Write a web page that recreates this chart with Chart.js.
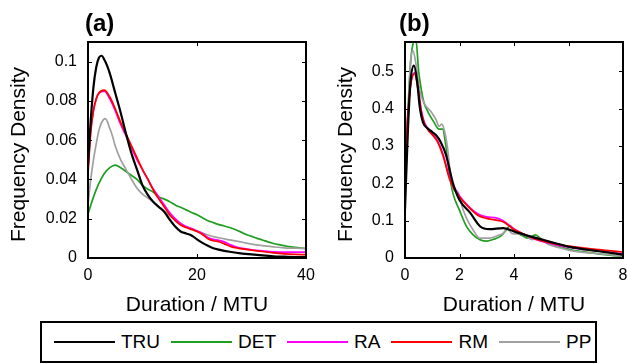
<!DOCTYPE html>
<html>
<head>
<meta charset="utf-8">
<script src="https://cdn.jsdelivr.net/npm/chart.js@4.4.1/dist/chart.umd.min.js"></script>
<style>
  body { margin: 0; background: #fff; width: 627px; height: 364px; overflow: hidden; position: relative;
         font-family: "Liberation Sans", Arial, Helvetica, sans-serif; }
  #chartA { position: absolute; left: 0; top: 0; }
  #chartB { position: absolute; left: 320px; top: 0; }
  #legend { position: absolute; left: 40px; top: 321px; width: 557px; height: 42px; box-sizing: border-box;
            border: 2px solid #000; display: flex; align-items: center; padding-left: 12px; font-size: 19px; color: #000; }
  #legend .item { display: flex; align-items: center; margin-right: 11px; }
  #legend .swatch { width: 61px; height: 0; border-top: 2px solid; margin-right: 6px; }
</style>
</head>
<body>
<canvas id="chartA" width="320" height="320"></canvas>
<canvas id="chartB" width="307" height="320"></canvas>
<div id="legend"></div>
<script>
const FONT = '"Liberation Sans", Arial, Helvetica, sans-serif';

// series names / colours (same order as the legend)
const seriesNames = ["TRU", "DET", "RA", "RM", "PP"];
const seriesColors = ["#000000", "#1f9e1f", "#ff00ff", "#ff0000", "#a0a0a0"];

// panel (a): duration 0..40 MTU
const xTicksA = [0, 20, 40];
const yTicksA = [0, 0.02, 0.04, 0.06, 0.08, 0.1];
const aTRU = [[0,0.048],[0.5,0.07],[1,0.087],[1.5,0.097],[2,0.102],[2.5,0.103],[3,0.101],[3.5,0.098],[4,0.094],[5,0.084],[6,0.074],[7,0.063],[8,0.053],[9,0.045],[10,0.037],[11,0.032],[12,0.0285],[13,0.026],[14,0.0235],[15,0.0195],[16,0.016],[17,0.0135],[18,0.0125],[19,0.0115],[20,0.0095],[21,0.0077],[22,0.0062],[23,0.005],[24,0.0043],[26,0.0032],[28,0.0024],[30,0.0018],[32,0.0013],[34,0.0009],[36,0.0007],[38,0.0005],[40,0.0004]];
const aDET = [[0,0.0225],[1,0.031],[2,0.038],[3,0.043],[4,0.046],[5,0.0473],[6,0.046],[7,0.044],[8,0.042],[9,0.04],[10,0.037],[11,0.035],[12,0.0335],[13,0.031],[14,0.03],[15,0.0287],[16,0.027],[17,0.0258],[18,0.0245],[19,0.0232],[20,0.022],[21,0.0205],[22,0.019],[23,0.018],[24,0.017],[25,0.0163],[26,0.0155],[27,0.0145],[28,0.0133],[29,0.012],[30,0.011],[31,0.01],[32,0.0092],[33,0.0082],[34,0.0074],[35,0.0068],[36,0.0063],[37,0.0058],[38,0.0054],[39,0.0051],[40,0.0049]];
const aRA = [[0,0.045],[0.5,0.065],[1,0.075],[1.5,0.081],[2,0.084],[3,0.085],[4,0.081],[5,0.075],[6,0.068],[7,0.062],[8,0.056],[9,0.05],[10,0.045],[11,0.04],[12,0.035],[13,0.031],[14,0.027],[15,0.023],[16,0.02],[17,0.0175],[18,0.016],[19,0.015],[20,0.0138],[21,0.0125],[22,0.0105],[23,0.0095],[24,0.009],[25,0.0082],[26,0.0068],[27,0.0058],[28,0.005],[30,0.0042],[32,0.0036],[34,0.0031],[36,0.003],[38,0.003],[40,0.003]];
const aRM = [[0,0.043],[0.5,0.064],[1,0.075],[1.5,0.081],[2,0.084],[3,0.0855],[4,0.082],[5,0.076],[6,0.069],[7,0.063],[8,0.057],[9,0.051],[10,0.045],[11,0.04],[12,0.0345],[13,0.03],[14,0.026],[15,0.022],[16,0.019],[17,0.0168],[18,0.0155],[19,0.0146],[20,0.0135],[21,0.012],[22,0.0098],[23,0.0088],[24,0.0083],[25,0.0072],[26,0.006],[27,0.0052],[28,0.0048],[30,0.004],[32,0.0033],[34,0.0026],[36,0.0021],[38,0.0018],[40,0.0017]];
const aPP = [[0,0.027],[0.5,0.04],[1,0.05],[1.5,0.058],[2,0.065],[2.5,0.069],[3.2,0.071],[4,0.066],[4.5,0.062],[5,0.057],[6,0.05],[7,0.045],[8,0.04],[9,0.0355],[10,0.0325],[11,0.0305],[12,0.0285],[13,0.026],[14,0.0238],[15,0.0215],[16,0.0195],[17,0.0177],[18,0.016],[19,0.015],[20,0.0138],[22,0.0117],[24,0.0103],[26,0.0092],[28,0.0082],[30,0.0071],[32,0.0063],[34,0.0057],[36,0.0052],[38,0.005],[40,0.0048]];

// panel (b): duration 0..8 MTU
const xTicksB = [0, 2, 4, 6, 8];
const yTicksB = [0, 0.1, 0.2, 0.3, 0.4, 0.5];
const bTRU = [[0,0.13],[0.1,0.33],[0.2,0.47],[0.33,0.515],[0.45,0.47],[0.54,0.405],[0.66,0.363],[0.85,0.346],[1,0.337],[1.15,0.328],[1.3,0.312],[1.5,0.277],[1.76,0.2],[2,0.155],[2.4,0.12],[2.75,0.085],[3.1,0.077],[3.6,0.08],[4,0.071],[4.4,0.062],[5.1,0.048],[5.5,0.04],[6.1,0.029],[6.6,0.023],[7.1,0.018],[8,0.009]];
const bDET = [[0,0.2],[0.1,0.38],[0.2,0.52],[0.3,0.575],[0.4,0.585],[0.5,0.5],[0.6,0.45],[0.7,0.415],[0.85,0.39],[1.05,0.365],[1.25,0.345],[1.38,0.345],[1.5,0.3],[1.64,0.22],[1.76,0.173],[2,0.128],[2.26,0.084],[2.5,0.062],[2.75,0.049],[3,0.045],[3.25,0.05],[3.5,0.058],[3.72,0.075],[3.85,0.087],[4.04,0.071],[4.3,0.06],[4.53,0.053],[4.78,0.062],[5.02,0.049],[5.5,0.035],[6.1,0.022],[6.7,0.015],[7.35,0.009],[8,0.004]];
const bRA = [[0,0.24],[0.1,0.37],[0.2,0.46],[0.35,0.496],[0.5,0.445],[0.6,0.395],[0.7,0.365],[0.85,0.345],[1,0.333],[1.2,0.313],[1.4,0.277],[1.64,0.215],[1.8,0.19],[2,0.166],[2.38,0.135],[2.7,0.117],[3,0.11],[3.3,0.108],[3.6,0.1],[4,0.078],[4.4,0.062],[4.9,0.047],[5.5,0.036],[6.1,0.028],[7,0.02],[8,0.011]];
const bRM = [[0,0.25],[0.1,0.38],[0.2,0.46],[0.35,0.493],[0.5,0.44],[0.6,0.39],[0.7,0.362],[0.85,0.342],[1,0.33],[1.2,0.31],[1.4,0.272],[1.64,0.21],[1.8,0.185],[2,0.163],[2.38,0.133],[2.7,0.113],[3,0.106],[3.3,0.102],[3.6,0.097],[4,0.076],[4.4,0.063],[4.9,0.048],[5.5,0.038],[6.1,0.031],[7,0.023],[8,0.016]];
const bPP = [[0,0.14],[0.1,0.35],[0.2,0.52],[0.29,0.555],[0.4,0.52],[0.54,0.448],[0.72,0.412],[0.97,0.39],[1.15,0.368],[1.25,0.352],[1.35,0.358],[1.45,0.34],[1.55,0.3],[1.65,0.235],[1.76,0.185],[1.85,0.18],[1.95,0.175],[2.13,0.13],[2.3,0.1],[2.5,0.075],[2.75,0.053],[3.1,0.053],[3.4,0.06],[3.6,0.066],[3.75,0.078],[3.92,0.066],[4.2,0.064],[4.45,0.06],[4.66,0.049],[4.9,0.053],[5.27,0.036],[5.7,0.027],[6.13,0.019],[7,0.012],[8,0.005]];

// TRU on top, then RM, RA, PP, DET
const drawOrder = [0, 4, 2, 1, 3];

// box, inward ticks, panel label and axis titles
const framePlugin = {
  id: "frame",
  afterDraw(chart, args, opts) {
    const { ctx, chartArea: a, scales: { x, y } } = chart;
    ctx.save();
    ctx.strokeStyle = "#000";
    ctx.lineWidth = 1;
    ctx.beginPath();
    x.ticks.forEach(t => {
      const px = Math.round(x.getPixelForValue(t.value)) + 0.5;
      ctx.moveTo(px, a.bottom); ctx.lineTo(px, a.bottom - 4);
      ctx.moveTo(px, a.top); ctx.lineTo(px, a.top + 4);
    });
    y.ticks.forEach(t => {
      const py = Math.round(y.getPixelForValue(t.value)) + 0.5;
      ctx.moveTo(a.left, py); ctx.lineTo(a.left + 4, py);
      ctx.moveTo(a.right, py); ctx.lineTo(a.right - 4, py);
    });
    ctx.stroke();
    ctx.lineWidth = 2;
    ctx.strokeRect(a.left, a.top, a.right - a.left, a.bottom - a.top);

    ctx.fillStyle = "#000";
    ctx.textAlign = "left";
    ctx.textBaseline = "alphabetic";
    ctx.font = "bold 24px " + FONT;
    ctx.fillText(opts.label, a.left + opts.labelDx, 30.5);

    ctx.font = "21px " + FONT;
    ctx.textAlign = "center";
    ctx.fillText(opts.xTitle, (a.left + a.right) / 2, 311);

    ctx.translate(a.left - opts.yTitleGap, 154.5);
    ctx.rotate(-Math.PI / 2);
    ctx.fillText(opts.yTitle, 0, 0);
    ctx.restore();
  }
};

function makeChart(canvas, series, xMax, yMax, xTicks, yTicks, yWidth, padRight, frame) {
  return new Chart(canvas, {
    type: "line",
    data: {
      datasets: series.map((s, i) => ({
        label: seriesNames[i],
        data: s.map(p => ({ x: p[0], y: p[1] })),
        borderColor: seriesColors[i],
        borderWidth: i === 0 ? 2.2 : 1.7,
        pointRadius: 0,
        fill: false,
        cubicInterpolationMode: "monotone",
        order: drawOrder[i]
      }))
    },
    options: {
      responsive: false,
      animation: false,
      events: [],
      layout: { padding: { left: 0, top: 42, right: padRight, bottom: 0 } },
      plugins: { legend: { display: false }, tooltip: { enabled: false }, frame: frame },
      scales: {
        x: {
          type: "linear", min: 0, max: xMax,
          afterBuildTicks: s => { s.ticks = xTicks.map(v => ({ value: v })); },
          afterFit: s => { s.height = 62; s.paddingLeft = 0; s.paddingRight = 0; },
          grid: { display: false, drawTicks: false },
          border: { display: false },
          ticks: { padding: 8, color: "#000", font: { size: 16, family: FONT }, maxRotation: 0, autoSkip: false }
        },
        y: {
          type: "linear", min: 0, max: yMax,
          afterBuildTicks: s => { s.ticks = yTicks.map(v => ({ value: v })); },
          afterFit: s => { s.width = yWidth; s.paddingTop = 0; s.paddingBottom = 0; },
          grid: { display: false, drawTicks: false },
          border: { display: false },
          ticks: { padding: 11, color: "#000", font: { size: 16, family: FONT }, autoSkip: false,
                   callback: v => String(+v.toFixed(4)) }
        }
      }
    },
    plugins: [framePlugin]
  });
}

makeChart(document.getElementById("chartA"), [aTRU, aDET, aRA, aRM, aPP], 40, 0.11, xTicksA, yTicksA, 88, 14,
  { label: "(a)", labelDx: -3, xTitle: "Duration / MTU", yTitle: "Frequency Density", yTitleGap: 63 });
makeChart(document.getElementById("chartB"), [bTRU, bDET, bRA, bRM, bPP], 8, 0.578, xTicksB, yTicksB, 85, 4,
  { label: "(b)", labelDx: -6, xTitle: "Duration / MTU", yTitle: "Frequency Density", yTitleGap: 53 });

// legend
const legend = document.getElementById("legend");
seriesNames.forEach((name, i) => {
  const item = document.createElement("div");
  item.className = "item";
  const sw = document.createElement("span");
  sw.className = "swatch";
  sw.style.borderColor = seriesColors[i];
  const txt = document.createElement("span");
  txt.textContent = name;
  item.appendChild(sw);
  item.appendChild(txt);
  legend.appendChild(item);
});
</script>
</body>
</html>
